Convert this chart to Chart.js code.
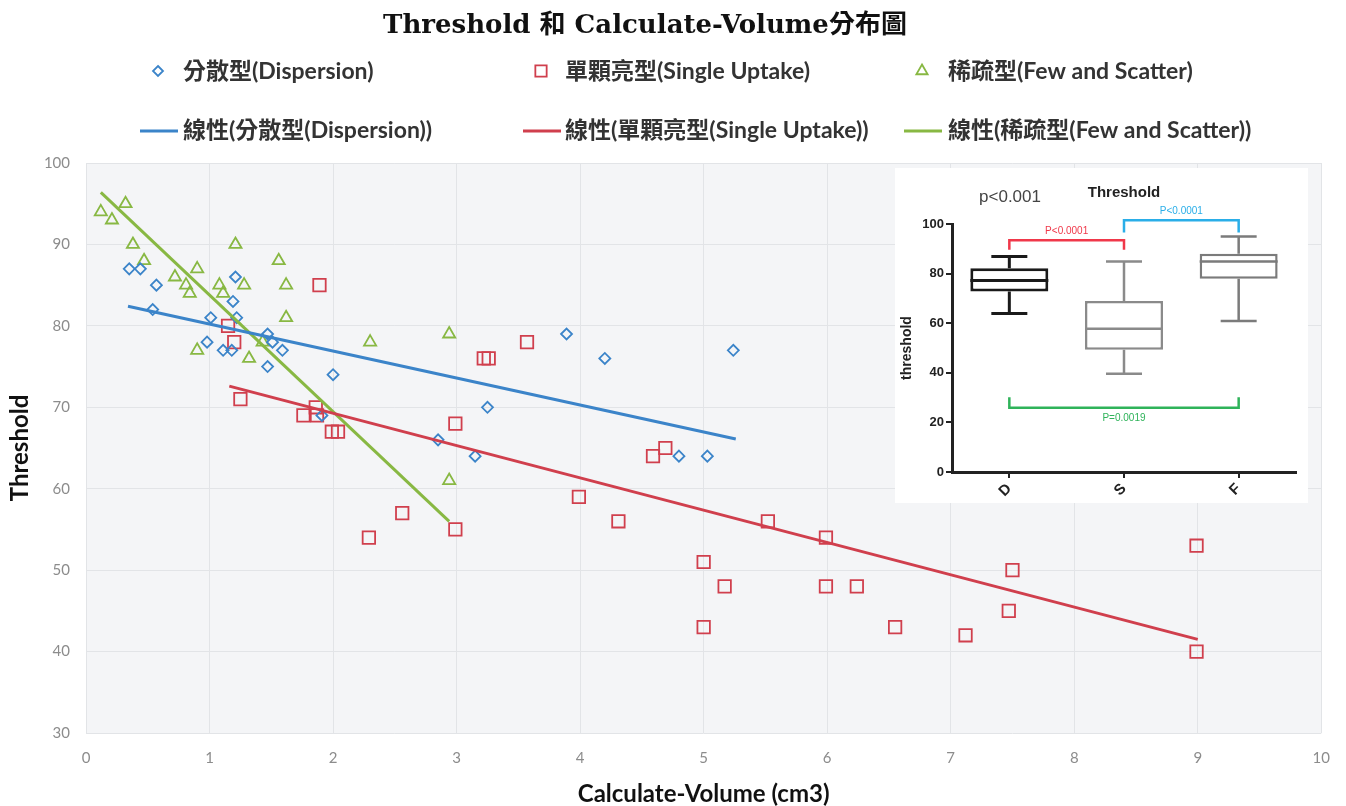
<!DOCTYPE html>
<html lang="zh-Hant">
<head>
<meta charset="UTF-8">
<title>Threshold 和 Calculate-Volume分布圖</title>
<script src="https://cdn.jsdelivr.net/npm/chart.js"></script>
<style>
    body { margin: 0; background: #fff; }
    #wrap { position: relative; width: 1346px; height: 806px; }
    #main { position: absolute; left: 0; top: 0; }
    #inset-box { position: absolute; left: 895px; top: 168px; width: 413px; height: 335px; background: #fff; }
</style>
</head>
<body>
<div id="wrap">
    <canvas id="main" width="1346" height="806"></canvas>
    <div id="inset-box"><canvas id="inset" width="413" height="335"></canvas></div>
</div>
<script>
// ---- main scatter data ----
const dispersionX = [0.35, 0.44, 0.57, 0.54, 1.01, 0.98, 1.11, 1.18, 1.21, 1.19, 1.22, 1.47, 1.51, 1.59, 1.47, 2.0, 1.91, 2.85, 3.15, 3.25, 3.89, 4.2, 4.8, 5.03, 5.24];
const dispersionY = [87, 87, 85, 82, 81, 78, 77, 77, 86, 83, 81, 79, 78, 77, 75, 74, 69, 66, 64, 70, 79, 76, 64, 64, 77];

const singleX = [1.89, 1.15, 1.2, 1.25, 1.76, 1.86, 1.87, 1.99, 2.04, 2.99, 3.22, 3.26, 3.57, 3.99, 4.31, 2.56, 2.29, 2.99, 4.59, 4.69, 5.52, 5.99, 5.0, 5.17, 5.99, 6.24, 5.0, 6.55, 7.12, 7.5, 7.47, 8.99, 8.99];
const singleY = [85, 80, 78, 71, 69, 70, 69, 67, 67, 68, 76, 76, 78, 59, 56, 57, 54, 55, 64, 65, 56, 54, 51, 48, 48, 48, 43, 43, 42, 50, 45, 53, 40];

const fewX = [0.12, 0.21, 0.32, 0.38, 0.47, 0.72, 0.81, 0.84, 0.9, 1.08, 1.11, 1.21, 1.28, 0.9, 1.32, 1.43, 1.56, 1.62, 1.62, 2.3, 2.94, 2.94];
const fewY = [94, 93, 95, 90, 88, 86, 85, 84, 87, 85, 84, 90, 85, 77, 76, 78, 88, 85, 81, 78, 79, 61];

// trend line end points
const trendDispersionX = [0.34, 5.26];
const trendDispersionY = [82.4, 66.1];
const trendSingleX = [1.16, 9.0];
const trendSingleY = [72.6, 41.5];
const trendFewX = [0.12, 2.94];
const trendFewY = [96.4, 56.0];

const seriesLabels = ['分散型(Dispersion)', '單顆亮型(Single Uptake)', '稀疏型(Few and Scatter)'];
const trendLabels = ['線性(分散型(Dispersion))', '線性(單顆亮型(Single Uptake))', '線性(稀疏型(Few and Scatter))'];
const chartTitle = 'Threshold 和 Calculate-Volume分布圖';
const xTitle = 'Calculate-Volume (cm3)';
const yTitle = 'Threshold';

// ---- inset box plot data ----
const boxLabels = ['D', 'S', 'F'];
const boxMin = [63.9, 39.6, 60.9];
const boxQ1 = [72.8, 49.3, 77.9];
const boxMedian = [77.2, 57.8, 84.9];
const boxQ3 = [82.2, 69.0, 88.0];
const boxMax = [86.9, 84.9, 95.0];
const bracketPairs = [[0, 1], [1, 2], [0, 2]];
const bracketLevel = [93.4, 101.5, 25.9];
const bracketEnd = [89.6, 96.6, 30.1];
const bracketText = ['P<0.0001', 'P<0.0001', 'P=0.0019'];

const BLUE = '#3b84c9';
const RED = '#d03f4d';
const GREEN = '#88b843';
const colors = [BLUE, RED, GREEN];
const styles = ['rectRot', 'rect', 'triangle'];

const pts = (xs, ys) => xs.map((x, i) => ({x: x, y: ys[i]}));

function shape(ctx, kind, x, y, r) {
    ctx.beginPath();
    if (kind === 'rectRot') {
        ctx.moveTo(x, y - r); ctx.lineTo(x + r, y); ctx.lineTo(x, y + r); ctx.lineTo(x - r, y);
    } else if (kind === 'rect') {
        const s = r * Math.SQRT1_2;
        ctx.rect(x - s, y - s, 2 * s, 2 * s);
    } else {
        ctx.moveTo(x, y - r);
        ctx.lineTo(x + r * Math.sin(2 * Math.PI / 3), y + r / 2);
        ctx.lineTo(x - r * Math.sin(2 * Math.PI / 3), y + r / 2);
    }
    ctx.closePath();
    ctx.stroke();
}

const pageDecor = {
    id: 'pageDecor',
    beforeDraw(chart) {
        const {ctx, chartArea: a} = chart;
        ctx.save();
        ctx.fillStyle = '#fff';
        ctx.fillRect(0, 0, chart.width, chart.height);
        ctx.fillStyle = '#f4f5f7';
        ctx.fillRect(a.left, a.top, a.right - a.left, a.bottom - a.top);
        ctx.restore();
    },
    afterDraw(chart) {
        const ctx = chart.ctx;
        ctx.save();
        ctx.fillStyle = '#111';
        ctx.textAlign = 'center';
        ctx.textBaseline = 'middle';
        ctx.font = 'bold 26px "DejaVu Serif", "Noto Sans CJK TC"';
        ctx.fillText(chartTitle, 645, 26);

        ctx.textAlign = 'left';
        ctx.font = 'bold 23px Lato, "Noto Sans CJK TC"';
        const markX = [158, 541, 922];
        const textX = [183, 565, 948];
        const sizes = [5, 8, 6.5];
        for (let i = 0; i < 3; i++) {
            ctx.strokeStyle = colors[i];
            ctx.lineWidth = 1.8;
            shape(ctx, styles[i], markX[i], 71, sizes[i]);
            ctx.fillStyle = '#333';
            ctx.fillText(seriesLabels[i], textX[i], 72);

            ctx.lineWidth = 3;
            ctx.beginPath();
            ctx.moveTo(markX[i] - 18, 131);
            ctx.lineTo(markX[i] + 20, 131);
            ctx.stroke();
            ctx.fillText(trendLabels[i], textX[i], 131);
        }
        ctx.restore();
    }
};

const scatterSet = (i, xs, ys, r) => ({
    label: seriesLabels[i],
    data: pts(xs, ys),
    pointStyle: styles[i],
    pointRadius: r,
    pointBorderWidth: 1.8,
    borderColor: colors[i],
    backgroundColor: 'rgba(0,0,0,0)',
    showLine: false,
    order: 2
});
const trendSet = (i, xs, ys) => ({
    label: trendLabels[i],
    data: pts(xs, ys),
    showLine: true,
    pointRadius: 0,
    borderColor: colors[i],
    borderWidth: 3,
    order: 1
});

new Chart(document.getElementById('main'), {
    type: 'scatter',
    data: {
        datasets: [
            trendSet(0, trendDispersionX, trendDispersionY),
            trendSet(1, trendSingleX, trendSingleY),
            trendSet(2, trendFewX, trendFewY),
            scatterSet(0, dispersionX, dispersionY, 5.5),
            scatterSet(1, singleX, singleY, 8.8),
            scatterSet(2, fewX, fewY, 7)
        ]
    },
    options: {
        responsive: false,
        animation: false,
        layout: {padding: {top: 163, right: 22, left: 0, bottom: 0}},
        plugins: {legend: {display: false}, title: {display: false}, tooltip: {enabled: false}},
        scales: {
            x: {
                type: 'linear', min: 0, max: 10,
                ticks: {stepSize: 1, color: '#8c8c8c', font: {family: 'Lato', size: 15}, padding: 16},
                grid: {color: '#e2e4e7', drawTicks: false},
                border: {display: false},
                title: {display: true, text: xTitle, color: '#111', font: {family: 'Lato', size: 24, weight: 'bold', lineHeight: 1}, padding: {top: 0, bottom: 0}},
                afterFit: s => { s.height = 73; }
            },
            y: {
                min: 30, max: 100,
                ticks: {stepSize: 10, color: '#8c8c8c', font: {family: 'Lato', size: 15}, padding: 16},
                grid: {color: '#e2e4e7', drawTicks: false},
                border: {display: false},
                title: {display: true, text: yTitle, color: '#111', font: {family: 'Lato', size: 24, weight: 'bold'}, padding: {top: 6, bottom: 0}},
                afterFit: s => { s.width = 86; }
            }
        }
    },
    plugins: [pageDecor]
});

// ---- inset box plot ----
const boxColors = ['#1a1a1a', '#8a8a8a', '#7b7b7b'];
const boxLine = [3, 2.5, 2.5];
const bracketColors = ['#f0384a', '#2aaee8', '#2fb35a'];

const boxExtras = {
    id: 'boxExtras',
    afterDatasetsDraw(chart) {
        const {ctx, scales: {x, y}} = chart;
        const meta = chart.getDatasetMeta(0);
        ctx.save();
        boxLabels.forEach((_, i) => {
            const bar = meta.data[i];
            const cx = bar.x, half = bar.width / 2;
            ctx.strokeStyle = boxColors[i];
            ctx.lineWidth = boxLine[i];
            ctx.beginPath();
            ctx.moveTo(cx - half, y.getPixelForValue(boxMedian[i]));
            ctx.lineTo(cx + half, y.getPixelForValue(boxMedian[i]));
            ctx.moveTo(cx, y.getPixelForValue(boxQ3[i]));
            ctx.lineTo(cx, y.getPixelForValue(boxMax[i]));
            ctx.moveTo(cx, y.getPixelForValue(boxQ1[i]));
            ctx.lineTo(cx, y.getPixelForValue(boxMin[i]));
            ctx.moveTo(cx - 18, y.getPixelForValue(boxMax[i]));
            ctx.lineTo(cx + 18, y.getPixelForValue(boxMax[i]));
            ctx.moveTo(cx - 18, y.getPixelForValue(boxMin[i]));
            ctx.lineTo(cx + 18, y.getPixelForValue(boxMin[i]));
            ctx.stroke();
        });
        bracketPairs.forEach((p, k) => {
            const x1 = x.getPixelForValue(p[0]), x2 = x.getPixelForValue(p[1]);
            const yl = y.getPixelForValue(bracketLevel[k]), ye = y.getPixelForValue(bracketEnd[k]);
            ctx.strokeStyle = bracketColors[k];
            ctx.lineWidth = 2.5;
            ctx.beginPath();
            ctx.moveTo(x1, ye); ctx.lineTo(x1, yl); ctx.lineTo(x2, yl); ctx.lineTo(x2, ye);
            ctx.stroke();
            ctx.fillStyle = bracketColors[k];
            ctx.font = '10px "Liberation Sans"';
            ctx.textAlign = 'center';
            ctx.textBaseline = 'middle';
            const below = bracketLevel[k] < bracketEnd[k];
            ctx.fillText(bracketText[k], (x1 + x2) / 2, below ? yl + 10 : yl - 9);
        });
        ctx.restore();
    },
    afterDraw(chart) {
        const ctx = chart.ctx;
        ctx.save();
        ctx.textBaseline = 'middle';
        ctx.textAlign = 'center';
        ctx.fillStyle = '#444';
        ctx.font = '17px "Liberation Sans"';
        ctx.fillText('p<0.001', 115, 29);
        ctx.fillStyle = '#222';
        ctx.font = 'bold 15px "Liberation Sans"';
        ctx.fillText('Threshold', 229, 25);
        ctx.restore();
    }
};

new Chart(document.getElementById('inset'), {
    type: 'bar',
    data: {
        labels: boxLabels,
        datasets: [{
            data: boxLabels.map((_, i) => [boxQ1[i], boxQ3[i]]),
            backgroundColor: '#fff',
            borderColor: boxColors,
            borderWidth: boxLine,
            borderSkipped: false,
            barPercentage: 0.68,
            categoryPercentage: 1
        }]
    },
    options: {
        responsive: false,
        animation: false,
        layout: {padding: {top: 56, right: 12, left: 0, bottom: 0}},
        plugins: {legend: {display: false}, tooltip: {enabled: false}},
        scales: {
            x: {
                ticks: {color: '#222', font: {family: 'Liberation Sans', size: 15, weight: 'bold'}, minRotation: 45, maxRotation: 45, padding: 2},
                grid: {offset: false, drawOnChartArea: false, drawTicks: true, tickLength: 6, color: '#222', lineWidth: 2},
                border: {color: '#222', width: 3},
                afterFit: s => { s.height = 31; }
            },
            y: {
                min: 0, max: 100,
                ticks: {stepSize: 20, color: '#222', font: {family: 'Liberation Sans', size: 13, weight: 'bold'}, padding: 2},
                grid: {drawOnChartArea: false, drawTicks: true, tickLength: 6, color: '#222', lineWidth: 2},
                border: {color: '#222', width: 3},
                title: {display: true, text: 'threshold', color: '#222', font: {family: 'Liberation Sans', size: 14, weight: 'bold'}, padding: {top: 4, bottom: 0}},
                afterFit: s => { s.width = 57; }
            }
        }
    },
    plugins: [boxExtras]
});
</script>
</body>
</html>
